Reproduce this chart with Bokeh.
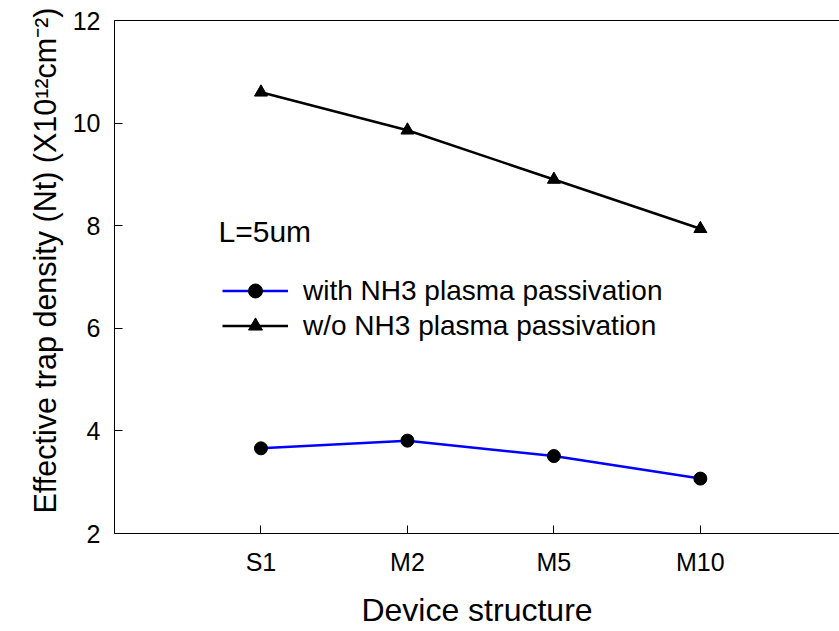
from bokeh.plotting import figure
from bokeh.models import FixedTicker, LinearAxis, Legend, LegendItem, Label, Range1d, Title
from bokeh.embed import file_html
from bokeh.resources import INLINE

# ---- data ----
categories = ["S1", "M2", "M5", "M10"]
x_pos = [1, 2, 3, 4]
with_nh3 = [3.66, 3.81, 3.51, 3.07]
without_nh3 = [10.60, 9.86, 8.90, 7.94]
y_ticks = [2, 4, 6, 8, 10, 12]

FONT = "Liberation Sans"

p = figure(width=839, height=631, output_backend="svg", toolbar_location=None,
           x_range=Range1d(0, 4.95), y_range=Range1d(2, 12),
           min_border_left=114, min_border_right=0, min_border_top=20,
           min_border_bottom=98)
p.outline_line_color = None
p.grid.visible = False
p.background_fill_color = "white"
p.border_fill_color = "white"

# axes
xa = p.xaxis[0]
xa.ticker = FixedTicker(ticks=x_pos)
xa.major_label_overrides = {x: c for x, c in zip(x_pos, categories)}
ya = p.yaxis[0]
ya.ticker = FixedTicker(ticks=y_ticks)
for ax in (xa, ya):
    ax.major_tick_in = 8
    ax.major_tick_out = 0
    ax.minor_tick_line_color = None
    ax.axis_line_color = "black"
    ax.major_tick_line_color = "black"
    ax.major_label_text_font = FONT
    ax.major_label_text_font_size = "25px"
    ax.major_label_text_color = "black"
    ax.axis_label_text_font = FONT
    ax.axis_label_text_font_style = "normal"
    ax.axis_label_text_color = "black"
xa.axis_label = "Device structure"
xa.axis_label_text_font_size = "32px"
xa.major_label_standoff = 14
xa.axis_label_standoff = 13
ya.major_label_standoff = 14

top = LinearAxis(ticker=FixedTicker(ticks=[]), major_tick_line_color=None,
                 minor_tick_line_color=None, axis_line_color="black")
p.add_layout(top, "above")

# y axis title
ytitle = Title(text="Effective trap density (Nt) (X10\u00b9\u00b2cm\u207b\u00b2)",
               align="left", offset=20, standoff=16,
               text_font=FONT, text_font_size="30.5px", text_font_style="normal",
               text_color="black")
p.add_layout(ytitle, "left")

# series
l1 = p.line(x_pos, with_nh3, line_color="#0000ff", line_width=2.5)
c1 = p.scatter(x_pos, with_nh3, marker="circle", size=13, fill_color="black", line_color="black")
l2 = p.line(x_pos, without_nh3, line_color="black", line_width=2.5)
c2 = p.scatter(x_pos, without_nh3, marker="triangle", size=13, fill_color="black", line_color="black")

legend = Legend(items=[LegendItem(label="with NH3 plasma passivation", renderers=[l1, c1]),
                       LegendItem(label="w/o NH3 plasma passivation", renderers=[l2, c2])],
                location=(108, 190), padding=0, margin=0, spacing=0,
                glyph_width=66, glyph_height=35, label_height=35, label_standoff=15,
                label_text_font=FONT, label_text_font_size="28px", label_text_color="black",
                border_line_color=None, background_fill_alpha=0)
p.add_layout(legend)

p.add_layout(Label(x=0.71, y=7.89, text="L=5um", text_font=FONT, text_font_size="30px",
                   text_color="black", text_baseline="alphabetic"))

open("out.html", "w").write(file_html(p, INLINE))
